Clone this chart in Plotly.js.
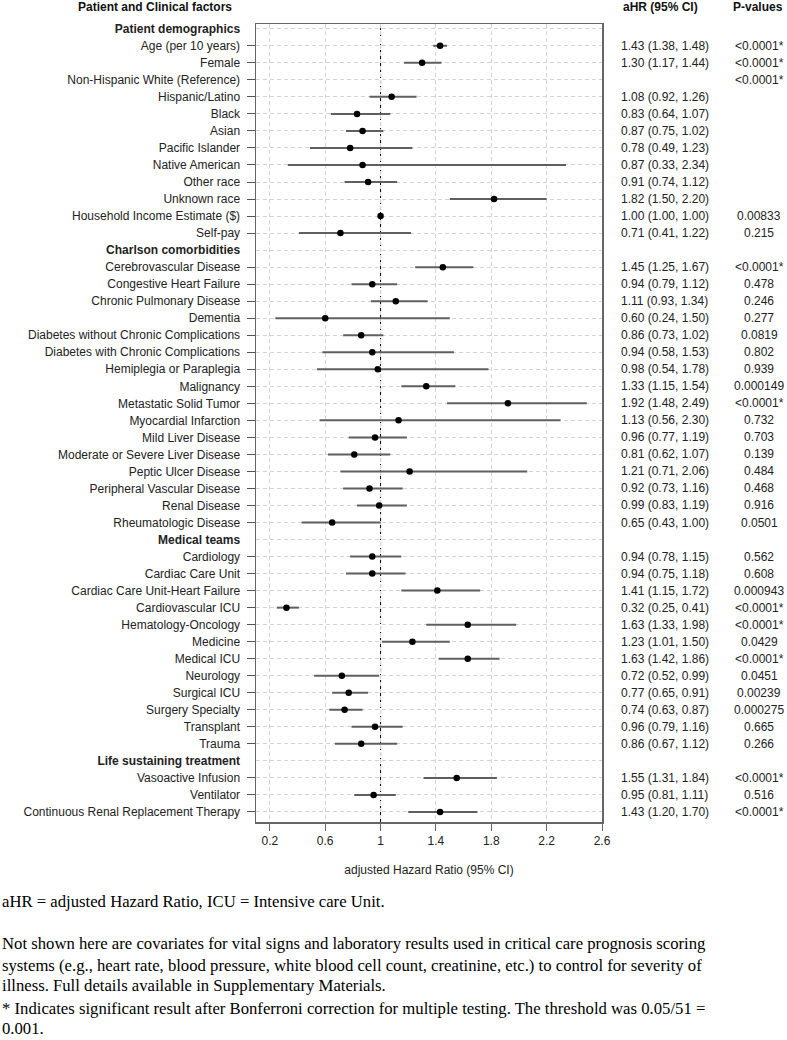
<!DOCTYPE html>
<html>
<head>
<meta charset="utf-8">
<script src="https://cdn.plot.ly/plotly-3.0.1.min.js"></script>
<style>
  html, body { margin: 0; padding: 0; background: #ffffff; }
  #chart { width: 787px; height: 1040px; }
</style>
</head>
<body>
<div id="chart"></div>
<script>
// ---------------- DATA ----------------
const labels = [
  "Patient demographics",
  "Age (per 10 years)", "Female", "Non-Hispanic White (Reference)", "Hispanic/Latino",
  "Black", "Asian", "Pacific Islander", "Native American", "Other race", "Unknown race",
  "Household Income Estimate ($)", "Self-pay",
  "Charlson comorbidities",
  "Cerebrovascular Disease", "Congestive Heart Failure", "Chronic Pulmonary Disease",
  "Dementia", "Diabetes without Chronic Complications", "Diabetes with Chronic Complications",
  "Hemiplegia or Paraplegia", "Malignancy", "Metastatic Solid Tumor", "Myocardial Infarction",
  "Mild Liver Disease", "Moderate or Severe Liver Disease", "Peptic Ulcer Disease",
  "Peripheral Vascular Disease", "Renal Disease", "Rheumatologic Disease",
  "Medical teams",
  "Cardiology", "Cardiac Care Unit", "Cardiac Care Unit-Heart Failure", "Cardiovascular ICU",
  "Hematology-Oncology", "Medicine", "Medical ICU", "Neurology", "Surgical ICU",
  "Surgery Specialty", "Transplant", "Trauma",
  "Life sustaining treatment",
  "Vasoactive Infusion", "Ventilator", "Continuous Renal Replacement Therapy"
];
const isHeader = [
  true,
  false,false,false,false,false,false,false,false,false,false,false,false,
  true,
  false,false,false,false,false,false,false,false,false,false,false,false,false,false,false,false,
  true,
  false,false,false,false,false,false,false,false,false,false,false,false,
  true,
  false,false,false
];
const hr = [
  null,
  1.43, 1.30, null, 1.08, 0.83, 0.87, 0.78, 0.87, 0.91, 1.82, 1.00, 0.71,
  null,
  1.45, 0.94, 1.11, 0.60, 0.86, 0.94, 0.98, 1.33, 1.92, 1.13, 0.96, 0.81, 1.21, 0.92, 0.99, 0.65,
  null,
  0.94, 0.94, 1.41, 0.32, 1.63, 1.23, 1.63, 0.72, 0.77, 0.74, 0.96, 0.86,
  null,
  1.55, 0.95, 1.43
];
const ciLower = [
  null,
  1.38, 1.17, null, 0.92, 0.64, 0.75, 0.49, 0.33, 0.74, 1.50, 1.00, 0.41,
  null,
  1.25, 0.79, 0.93, 0.24, 0.73, 0.58, 0.54, 1.15, 1.48, 0.56, 0.77, 0.62, 0.71, 0.73, 0.83, 0.43,
  null,
  0.78, 0.75, 1.15, 0.25, 1.33, 1.01, 1.42, 0.52, 0.65, 0.63, 0.79, 0.67,
  null,
  1.31, 0.81, 1.20
];
const ciUpper = [
  null,
  1.48, 1.44, null, 1.26, 1.07, 1.02, 1.23, 2.34, 1.12, 2.20, 1.00, 1.22,
  null,
  1.67, 1.12, 1.34, 1.50, 1.02, 1.53, 1.78, 1.54, 2.49, 2.30, 1.19, 1.07, 2.06, 1.16, 1.19, 1.00,
  null,
  1.15, 1.18, 1.72, 0.41, 1.98, 1.50, 1.86, 0.99, 0.91, 0.87, 1.16, 1.12,
  null,
  1.84, 1.11, 1.70
];
const pValues = [
  "",
  "<0.0001*", "<0.0001*", "<0.0001*", "", "", "", "", "", "", "", "0.00833", "0.215",
  "",
  "<0.0001*", "0.478", "0.246", "0.277", "0.0819", "0.802", "0.939", "0.000149", "<0.0001*",
  "0.732", "0.703", "0.139", "0.484", "0.468", "0.916", "0.0501",
  "",
  "0.562", "0.608", "0.000943", "<0.0001*", "<0.0001*", "0.0429", "<0.0001*", "0.0451",
  "0.00239", "0.000275", "0.665", "0.266",
  "",
  "<0.0001*", "0.516", "<0.0001*"
];
const xTickVals = [0.2, 0.6, 1, 1.4, 1.8, 2.2, 2.6];
const xTickText = ["0.2", "0.6", "1", "1.4", "1.8", "2.2", "2.6"];
const refLine = 1;
const columnHeaders = ["Patient and Clinical factors", "aHR (95% CI)", "P-values"];
const xAxisTitle = "adjusted Hazard Ratio (95% CI)";
const footnotes = [
  "aHR = adjusted Hazard Ratio, ICU = Intensive care Unit.",
  "Not shown here are covariates for vital signs and laboratory results used in critical care prognosis scoring",
  "systems (e.g., heart rate, blood pressure, white blood cell count, creatinine, etc.) to control for severity of",
  "illness. Full details available in Supplementary Materials.",
  "* Indicates significant result after Bonferroni correction for multiple testing. The threshold was 0.05/51 =",
  "0.001."
];

// ---------------- LAYOUT GEOMETRY ----------------
const W = 787, H = 1040;
const M = { l: 256, r: 185, t: 24, b: 218 };
const plotW = W - M.l - M.r;
const plotH = H - M.t - M.b;
const px2x = px => (px - M.l) / plotW;
const py2y = py => (H - M.b - py) / plotH;

const rows = labels.map((_, i) => i + 1);
const nonHeaderRows = rows.filter((_, i) => !isHeader[i]);
const tickText = labels.map((s, i) => isHeader[i] ? "<b>" + s + "</b>" : s);

const sans = "Liberation Sans, Arial, sans-serif";
const serif = "Liberation Serif, Times New Roman, serif";

const mainTrace = {
  type: "scatter",
  mode: "markers",
  x: hr,
  y: rows,
  marker: { color: "#000000", size: 6.5, symbol: "circle" },
  error_x: {
    type: "data",
    symmetric: false,
    array: hr.map((v, i) => v == null ? null : ciUpper[i] - v),
    arrayminus: hr.map((v, i) => v == null ? null : v - ciLower[i]),
    color: "#5f5f5f",
    thickness: 2,
    width: 0
  },
  hoverinfo: "skip",
  showlegend: false,
  cliponaxis: false
};
const tickTrace = {
  type: "scatter", mode: "markers", x: [null], y: [null], yaxis: "y2",
  showlegend: false, hoverinfo: "skip"
};

const annotations = [];
rows.forEach((r, i) => {
  if (hr[i] != null) {
    annotations.push({
      xref: "paper", yref: "y", x: px2x(619), y: r, xanchor: "left", yanchor: "middle",
      text: hr[i].toFixed(2) + " (" + ciLower[i].toFixed(2) + ", " + ciUpper[i].toFixed(2) + ")",
      showarrow: false, font: { family: sans, size: 12, color: "#222222" }
    });
  }
  if (pValues[i]) {
    annotations.push({
      xref: "paper", yref: "y", x: px2x(759), y: r, xanchor: "center", yanchor: "middle",
      text: pValues[i], showarrow: false, font: { family: sans, size: 12, color: "#222222" }
    });
  }
});
annotations.push({ xref: "paper", yref: "paper", x: px2x(155), y: py2y(7), xanchor: "center", yanchor: "middle",
  text: "<b>" + columnHeaders[0] + "</b>", showarrow: false, font: { family: sans, size: 12, color: "#111" } });
annotations.push({ xref: "paper", yref: "paper", x: px2x(621), y: py2y(7), xanchor: "left", yanchor: "middle",
  text: "<b>" + columnHeaders[1] + "</b>", showarrow: false, font: { family: sans, size: 12, color: "#111" } });
annotations.push({ xref: "paper", yref: "paper", x: px2x(731), y: py2y(7), xanchor: "left", yanchor: "middle",
  text: "<b>" + columnHeaders[2] + "</b>", showarrow: false, font: { family: sans, size: 12, color: "#111" } });
const footY = [901, 943, 965, 986, 1008, 1028];
footnotes.forEach((t, i) => {
  annotations.push({ xref: "paper", yref: "paper", x: px2x(0), y: py2y(footY[i]), xanchor: "left", yanchor: "middle",
    text: t, showarrow: false, font: { family: serif, size: 16.7, color: "#000" } });
});

const layout = {
  width: W, height: H,
  margin: M,
  paper_bgcolor: "#ffffff", plot_bgcolor: "#ffffff",
  showlegend: false,
  xaxis: {
    range: [0.1, 2.6], autorange: false,
    tickvals: xTickVals, ticktext: xTickText,
    ticks: "outside", ticklen: 7, tickcolor: "#666", tickwidth: 1,
    showline: true, mirror: true, linecolor: "#666", linewidth: 1.5,
    showgrid: true, gridcolor: "#d4d4d4", griddash: "4px,3px", gridwidth: 1,
    zeroline: false,
    tickfont: { family: sans, size: 12, color: "#222" },
    title: { text: xAxisTitle, font: { family: sans, size: 12, color: "#222" }, standoff: 18 }
  },
  yaxis: {
    range: [47.59, 0.72], autorange: false,
    tickvals: rows, ticktext: tickText,
    ticks: "outside", ticklen: 12, tickcolor: "rgba(0,0,0,0)",
    showline: true, mirror: true, linecolor: "#666", linewidth: 1.5,
    showgrid: true, gridcolor: "#d4d4d4", griddash: "4px,3px", gridwidth: 1,
    zeroline: false,
    tickfont: { family: sans, size: 12, color: "#222" }
  },
  yaxis2: {
    overlaying: "y", side: "left",
    range: [47.59, 0.72], autorange: false,
    tickvals: nonHeaderRows, ticks: "outside", ticklen: 8, tickcolor: "#555", tickwidth: 1,
    showticklabels: false, showgrid: false, zeroline: false, showline: false
  },
  shapes: [{
    type: "line", xref: "x", yref: "paper", x0: refLine, x1: refLine, y0: 0, y1: 1,
    line: { color: "#000", width: 1, dash: "4px,2px" }, layer: "below"
  }],
  annotations: annotations
};

Plotly.newPlot("chart", [mainTrace, tickTrace], layout, { staticPlot: true, displayModeBar: false });
</script>
</body>
</html>
